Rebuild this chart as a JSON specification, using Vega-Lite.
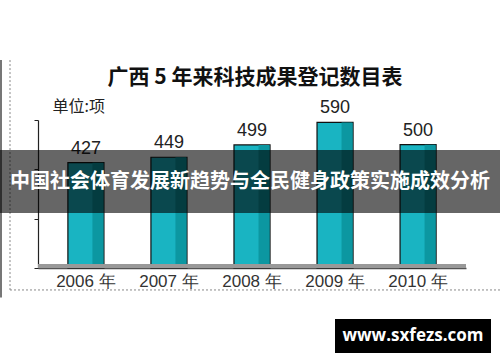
{
  "$schema": "https://vega.github.io/schema/vega-lite/v6.json",
  "width": 428,
  "height": 148,
  "autosize": {"type": "none"},
  "padding": {"left": 38, "top": 120, "right": 34, "bottom": 94},
  "background": "white",
  "config": {"view": {"stroke": null}, "font": "Liberation Sans"},
  "title": {
    "text": "广西 5 年来科技成果登记数目表",
    "font": "Noto Sans CJK SC",
    "fontSize": 21,
    "fontWeight": "bold",
    "color": "#111111",
    "anchor": "middle",
    "dx": 3,
    "offset": -29
  },
  "datasets": {
    "bars": [
      {"year": "2006 年", "count": 427},
      {"year": "2007 年", "count": 449},
      {"year": "2008 年", "count": 499},
      {"year": "2009 年", "count": 590},
      {"year": "2010 年", "count": 500}
    ],
    "banner": [
      {"label": "中国社会体育发展新趋势与全民健身政策实施成效分析", "lo": 223, "hi": 478, "mid": 349}
    ],
    "mark": [
      {"label": "www.sxfezs.com", "lo": -345, "hi": -207, "mid": -276}
    ],
    "frame": [
      {"top": 843, "bottom": -89}
    ]
  },
  "layer": [
    {
      "data": {"name": "frame"},
      "mark": {"type": "rule", "color": "#888888", "strokeWidth": 1, "strokeDash": [2, 2], "x": -28},
      "encoding": {
        "y": {"field": "top", "type": "quantitative"},
        "y2": {"field": "bottom"}
      }
    },
    {
      "data": {"name": "frame"},
      "mark": {"type": "rule", "color": "#888888", "strokeWidth": 1, "strokeDash": [2, 2], "x": -28, "x2": 462},
      "encoding": {
        "y": {"field": "bottom", "type": "quantitative"}
      }
    },
    {
      "data": {"name": "frame"},
      "mark": {"type": "rule", "color": "#777777", "strokeWidth": 2, "x": -37},
      "encoding": {
        "y": {"field": "top", "type": "quantitative"},
        "y2": {"datum": -120}
      }
    },
    {
      "data": {"name": "bars"},
      "mark": {"type": "bar", "color": "#19b4c2", "stroke": "#111111", "strokeWidth": 1.2},
      "encoding": {
        "x": {
          "field": "year", "type": "nominal", "sort": null,
          "scale": {"paddingInner": 0.566, "paddingOuter": 0.36},
          "axis": {
            "title": null, "labelAngle": 0, "labelFontSize": 17, "labelColor": "#333333",
            "labelFont": "Liberation Sans", "labelPadding": 5, "labelDx": -6, "ticks": false,
            "domainColor": "#555555", "domainWidth": 1.5
          }
        },
        "y": {
          "field": "count", "type": "quantitative",
          "scale": {"domain": [0, 600], "nice": false},
          "axis": {
            "title": "单位:项", "titleAngle": 0, "titleAlign": "left", "titleBaseline": "alphabetic",
            "titleX": 14, "titleY": -9, "titleFont": "Noto Sans CJK SC", "titleFontSize": 16,
            "titleFontWeight": "normal", "titleColor": "#222222",
            "labels": false, "grid": false, "values": [0, 100, 200, 300, 400, 500, 600],
            "tickSize": 4, "tickColor": "#222222", "domainColor": "#222222", "domainWidth": 1.2
          }
        }
      }
    },
    {
      "data": {"name": "bars"},
      "mark": {"type": "bar", "color": "#0c97a1", "width": 11, "xOffset": 12},
      "encoding": {
        "x": {"field": "year", "type": "nominal", "sort": null},
        "y": {"field": "count", "type": "quantitative"}
      }
    },
    {
      "data": {"name": "bars"},
      "mark": {"type": "text", "baseline": "bottom", "dy": -5, "fontSize": 18, "color": "#222222", "font": "Liberation Sans"},
      "encoding": {
        "x": {"field": "year", "type": "nominal", "sort": null},
        "y": {"field": "count", "type": "quantitative"},
        "text": {"field": "count"}
      }
    },
    {
      "data": {"values": [{"v": 0}]},
      "mark": {"type": "rule", "color": "#999999", "strokeWidth": 4, "yOffset": -2},
      "encoding": {"y": {"field": "v", "type": "quantitative"}}
    },
    {
      "data": {"name": "banner"},
      "mark": {"type": "rect", "color": "#000000", "opacity": 0.6, "x": -38, "x2": 462},
      "encoding": {
        "y": {"field": "lo", "type": "quantitative"},
        "y2": {"field": "hi"}
      }
    },
    {
      "data": {"name": "banner"},
      "mark": {"type": "text", "color": "white", "fontSize": 20, "fontWeight": "bold", "font": "Noto Sans CJK SC", "x": 212, "align": "center", "baseline": "middle"},
      "encoding": {
        "y": {"field": "mid", "type": "quantitative"},
        "text": {"field": "label"}
      }
    },
    {
      "data": {"name": "mark"},
      "mark": {"type": "rect", "color": "#000000", "x": 297, "x2": 453},
      "encoding": {
        "y": {"field": "lo", "type": "quantitative"},
        "y2": {"field": "hi"}
      }
    },
    {
      "data": {"name": "mark"},
      "mark": {"type": "text", "color": "white", "fontSize": 17, "fontWeight": "bold", "font": "Open Sans", "x": 375, "align": "center", "baseline": "middle"},
      "encoding": {
        "y": {"field": "mid", "type": "quantitative"},
        "text": {"field": "label"}
      }
    }
  ]
}
